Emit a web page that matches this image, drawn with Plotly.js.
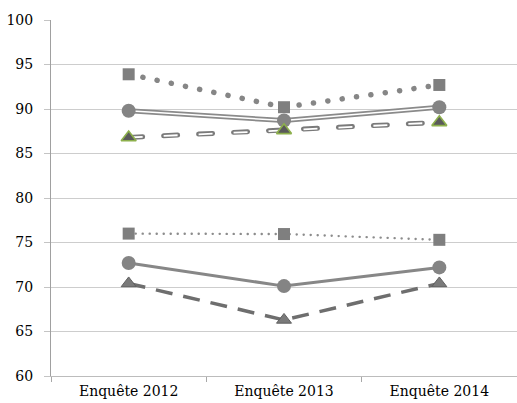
<!DOCTYPE html>
<html>
<head>
<meta charset="utf-8">
<script src="https://cdn.plot.ly/plotly-3.0.1.min.js"></script>
<style>
html,body{margin:0;padding:0;background:#fff;}
#chart{width:517px;height:403px;}
</style>
</head>
<body>
<div id="chart"></div>
<script>
// Data
var categories = ["Enquête 2012", "Enquête 2013", "Enquête 2014"];
var yTicks = [60, 65, 70, 75, 80, 85, 90, 95, 100];
var seriesA = [93.9, 90.2, 92.7];   // squares, round dotted (upper)
var seriesB = [89.8, 88.7, 90.2];   // circles, double solid (upper)
var seriesC = [86.8, 87.6, 88.5];   // triangles, double dashed (upper)
var seriesD = [76.0, 75.95, 75.3];  // squares, fine dotted (lower)
var seriesE = [72.7, 70.1, 72.2];   // circles, solid (lower)
var seriesF = [70.4, 66.3, 70.4];   // triangles, dashed (lower)

function lineTrace(y, color, width, dash) {
  return {x: categories, y: y, type: 'scatter', mode: 'lines',
          line: {color: color, width: width, dash: dash || 'solid'},
          hoverinfo: 'skip', showlegend: false, cliponaxis: false};
}
function markerTrace(y, symbol, size, color, lineColor, lineWidth) {
  return {x: categories, y: y, type: 'scatter', mode: 'markers',
          marker: {symbol: symbol, size: size, color: color,
                   line: {color: lineColor || color, width: lineWidth || 0}},
          showlegend: false, cliponaxis: false};
}

var traces = [
  lineTrace(seriesA, '#868686', 5.5, '0.1px,14.4px'),
  lineTrace(seriesB, '#8a8a8a', 5, 'solid'),
  lineTrace(seriesB, '#ffffff', 1.6, 'solid'),
  lineTrace(seriesC, '#7a7a7a', 5, '14px,21px'),
  lineTrace(seriesC, '#ffffff', 1.8, '14px,21px'),
  lineTrace(seriesD, '#8c8c8c', 2.4, '0.1px,6.9px'),
  lineTrace(seriesE, '#878787', 3, 'solid'),
  lineTrace(seriesF, '#6e6e6e', 3.5, '17px,11px'),
  markerTrace(seriesA, 'square', 12, '#7f7f7f'),
  markerTrace(seriesB, 'circle', 14, '#848484'),
  markerTrace(seriesC, 'triangle-up', 13, '#5a5a5a', '#8db04c', 1.6),
  markerTrace(seriesD, 'square', 12, '#7f7f7f'),
  markerTrace(seriesE, 'circle', 14, '#848484'),
  markerTrace(seriesF, 'triangle-up', 13, '#7a7a7a', '#5f5f5f', 1)
];

var fontFam = 'DejaVu Serif, Liberation Serif, serif';
var layout = {
  width: 517, height: 403,
  margin: {l: 51, r: 0, t: 20, b: 27},
  paper_bgcolor: '#ffffff', plot_bgcolor: '#ffffff',
  showlegend: false,
  font: {family: fontFam, size: 14, color: '#000000'},
  xaxis: {
    type: 'category', range: [-0.5, 2.5],
    showgrid: false, zeroline: false,
    showline: true, linecolor: '#bcbcbc', linewidth: 1,
    ticks: 'outside', tickson: 'boundaries', ticklen: 5, tickcolor: '#a8a8a8', tickwidth: 1,
    ticklabelstandoff: 2,
    tickfont: {family: fontFam, size: 14, color: '#000000'},
    fixedrange: true
  },
  yaxis: {
    range: [60, 100], tickvals: yTicks, ticktext: yTicks.map(String),
    showgrid: true, gridcolor: '#cdcdcd', gridwidth: 1,
    zeroline: false,
    showline: true, linecolor: '#a0a0a0', linewidth: 1,
    ticks: 'outside', ticklen: 6, tickcolor: '#c4c4c4', tickwidth: 1,
    ticklabelstandoff: 8,
    tickfont: {family: fontFam, size: 14, color: '#000000'},
    fixedrange: true
  }
};

Plotly.newPlot('chart', traces, layout, {displayModeBar: false, staticPlot: true}).then(function(gd) {
  var groups = gd.querySelectorAll('.scatterlayer .trace');
  [0, 3, 5].forEach(function(i) {
    if (groups[i]) {
      groups[i].querySelectorAll('path.js-line').forEach(function(p) {
        p.style.strokeLinecap = 'round';
      });
    }
  });
});
</script>
</body>
</html>
